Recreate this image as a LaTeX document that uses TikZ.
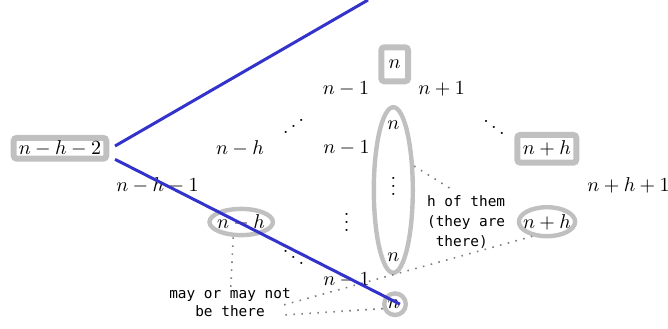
\documentclass[tikz,border=0pt]{standalone}
\usepackage{fontspec}
\newfontfamily\notefont{DejaVu Sans Mono}
\usetikzlibrary{shapes.geometric}
\definecolor{boxgray}{RGB}{192,192,192}
\definecolor{dotgray}{RGB}{128,128,128}
\definecolor{lineblue}{RGB}{51,51,204}
\begin{document}
\begin{tikzpicture}[x=0.5pt,y=-0.5pt,
  lbl/.style={inner sep=0pt},
  sqbox/.style={draw=boxgray, line width=3pt, rounded corners=1.5pt, inner sep=0pt},
  ell/.style={draw=boxgray, line width=2.2pt, ellipse, inner sep=0pt},
  note/.style={inner sep=0pt},
  conn/.style={draw=dotgray, line width=0.8pt, dash pattern=on 0.8pt off 3.2pt},
  blueline/.style={draw=lineblue, line width=1.5pt}]
\useasboundingbox (0,0) rectangle (668,328);

% boxes
\node[sqbox, minimum width=46.3pt, minimum height=10.35pt] (nh2) at (60,148.3) {$n-h-2$};
\node[sqbox, minimum width=13.35pt, minimum height=17pt] (ntop) at (394.7,64.3) {$n$};
\node[sqbox, minimum width=29.5pt, minimum height=13.85pt] (nphbox) at (546.8,148.8) {$n+h$};

% ellipses
\node[ell, minimum width=19.5pt, minimum height=82.8pt] (bigell) at (393.3,190) {};
\node[ell, minimum width=31.7pt, minimum height=13.1pt] (nmhell) at (241.2,222) {};
\node[ell, minimum width=28.1pt, minimum height=14.5pt] (nphell) at (547,221.7) {};
\node[ell, minimum width=10.8pt, minimum height=10.8pt] (ncirc) at (395,304.2) {};

% labels
\node[lbl] (l1) at (346,89) {$n-1$};
\node[lbl] (l2) at (441.7,89.3) {$n+1$};
\node[lbl] (d1) at (293.5,120.5) {\reflectbox{$\ddots$}};
\node[lbl] (d2) at (494,121) {$\ddots$};
\node[lbl] (l3) at (240,148) {$n-h$};
\node[lbl] (l4) at (346.5,148) {$n-1$};
\node[lbl] (e1) at (393.3,125) {$n$};
\node[lbl] (e2) at (393.3,180) {$\vdots$};
\node[lbl] (e3) at (393.3,256.7) {$n$};
\node[lbl] (l5) at (157.5,185) {$n-h-1$};
\node[lbl] (l6) at (628.5,185) {$n+h+1$};
\node[lbl] (v2) at (346.7,216.3) {$\vdots$};
\node[lbl] (t1) at (241,222) {$n-h$};
\node[lbl] (t2) at (547,222) {$n+h$};
\node[lbl] (d3) at (293.5,251.7) {$\ddots$};
\node[lbl] (l7) at (346.5,280) {$n-1$};
\node[lbl] (t3) at (393.5,304.5) {$n$};

% notes
\node[note, anchor=west, align=left, font={\notefont\fontsize{7.2}{10}\selectfont}] (hnote) at (426.7,222) {h of them\\(they are\\\phantom{x}there)};
\node[note, align=center, font={\notefont\fontsize{7.2}{9.2}\selectfont}] (ann) at (230,302.5) {may or may not\\be there};

% dotted connectors
\coordinate (c1) at (450,188.3);
\coordinate (c2) at (283.3,305);
\coordinate (c3) at (283.3,315);
\coordinate (c4) at (230.7,290);
\draw[conn] (bigell.49) -- (c1);
\draw[conn] (nphell.225) -- (c2);
\draw[conn] (ncirc.200) -- (c3);
\draw[conn] ([xshift=-4pt]nmhell.south) -- (c4);

% blue lines
\coordinate (btop) at (368,0);
\draw[blueline] ([xshift=2.85pt,yshift=1.15pt]nh2.east) -- (btop);
\draw[blueline] ([xshift=2.85pt,yshift=-5.5pt]nh2.east) -- ([xshift=2.5pt]ncirc.center);
\end{tikzpicture}
\end{document}
